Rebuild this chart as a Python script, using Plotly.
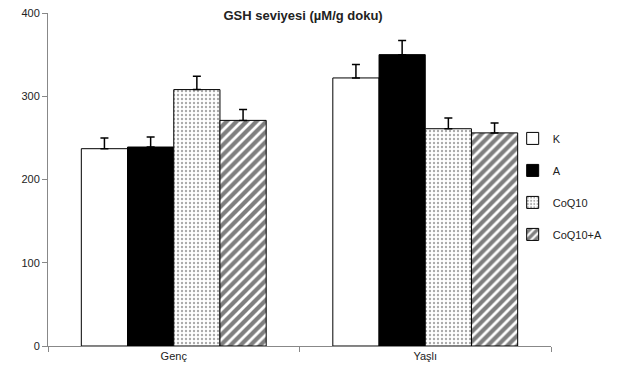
import plotly.graph_objects as go

categories = ["Genç", "Yaşlı"]
series_names = ["K", "A", "CoQ10", "CoQ10+A"]
values_K = [237, 322]
values_A = [239, 350]
values_CoQ10 = [308, 261]
values_CoQ10A = [271, 256]
err_K = [13, 16]
err_A = [12, 17]
err_CoQ10 = [16, 13]
err_CoQ10A = [13, 12]
y_ticks = [0, 100, 200, 300, 400]

series_values = [values_K, values_A, values_CoQ10, values_CoQ10A]
series_errs = [err_K, err_A, err_CoQ10, err_CoQ10A]
styles = [
    dict(color="white", pattern=dict(shape="")),
    dict(color="black", pattern=dict(shape="")),
    dict(color="white", pattern=dict(shape=".", fgcolor="#555555", bgcolor="white", size=4, solidity=0.28)),
    dict(color="white", pattern=dict(shape="/", fgcolor="black", bgcolor="white", size=7, solidity=0.6)),
]

fig = go.Figure()
for i, (name, vals, errs, st) in enumerate(zip(series_names, series_values, series_errs, styles)):
    fig.add_trace(go.Bar(
        x=categories, y=vals, name=name, legendgroup=name,
        marker=dict(color=st["color"], pattern=st["pattern"], line=dict(color="black", width=1)),
        error_y=dict(type="data", array=errs, arrayminus=[0, 0], symmetric=False,
                     color="black", thickness=1.5, width=4),
    ))

fig.update_layout(
    width=611, height=368,
    margin=dict(l=40, r=68, t=5, b=30, autoexpand=False),
    paper_bgcolor="white", plot_bgcolor="white",
    barmode="group", bargap=0.265, bargroupgap=0,
    font=dict(family="Liberation Sans, Arial, sans-serif", size=11, color="#222222"),
    title=dict(text="<b>GSH seviyesi (µM/g doku)</b>", x=0.483, xanchor="center",
               y=0.979, yanchor="middle", font=dict(size=13, color="#222222")),
    legend=dict(xref="container", yref="container", x=0.826, xanchor="left",
                y=0.685, yanchor="top",
                tracegroupgap=13, itemwidth=30, bgcolor="rgba(0,0,0,0)",
                font=dict(size=11), traceorder="grouped"),
    showlegend=True,
)
fig.update_xaxes(showline=True, linecolor="#888888", linewidth=1, ticks="outside",
                 tickson="boundaries", ticklen=5, tickcolor="#888888", showgrid=False)
fig.update_yaxes(range=[0, 400], tickvals=y_ticks, showline=True, linecolor="#888888",
                 linewidth=1, ticks="outside", ticklen=5, tickcolor="#888888",
                 showgrid=False, zeroline=False, ticklabeloverflow="allow")

fig.write_html("out.html")
